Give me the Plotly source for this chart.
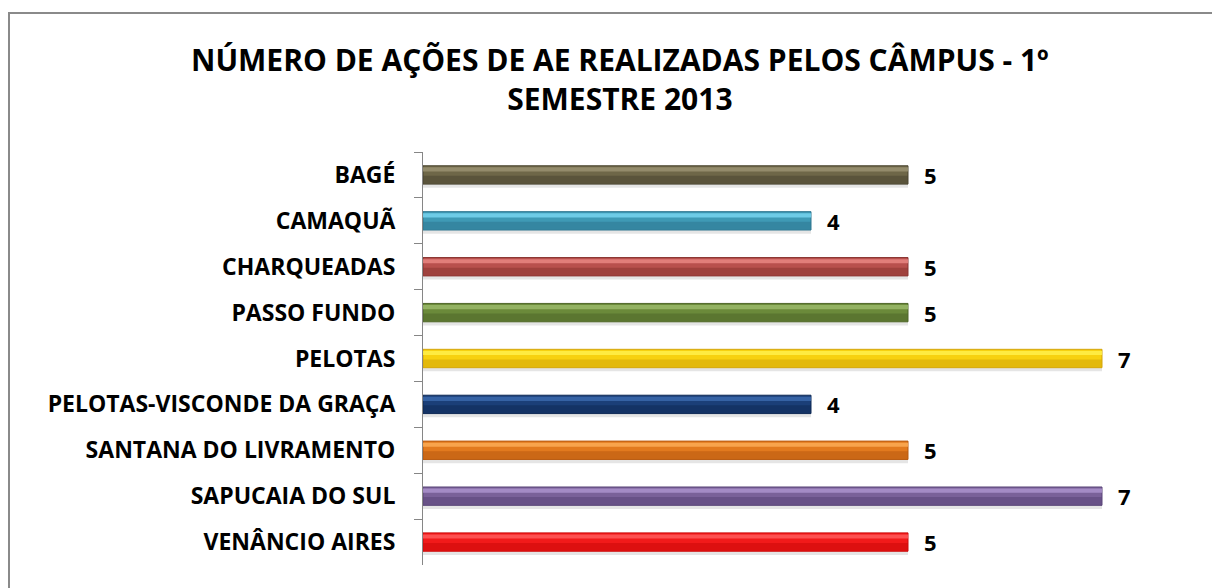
import plotly.graph_objects as go

categories = ["BAGÉ", "CAMAQUÃ", "CHARQUEADAS", "PASSO FUNDO", "PELOTAS",
              "PELOTAS-VISCONDE DA GRAÇA", "SANTANA DO LIVRAMENTO",
              "SAPUCAIA DO SUL", "VENÂNCIO AIRES"]
values = [5, 4, 5, 5, 7, 4, 5, 7, 5]
title_text = "NÚMERO DE AÇÕES DE AE REALIZADAS PELOS CÂMPUS - 1º<br>SEMESTRE 2013"

mid_colors = ["#6e6748", "#3f9ab5", "#b8504d", "#6b8a3a", "#f7d10f",
              "#1b3f78", "#e27a1e", "#7a6199", "#f21a1a"]
light_colors = ["#9a9272", "#77d3ee", "#e88682", "#9ab86a", "#fff04a",
                "#3a68ac", "#fbab55", "#ab93cc", "#ff5a5a"]
dark_colors = ["#4b4631", "#2e7690", "#8a3532", "#4e6628", "#d4a50a",
               "#0f2a56", "#b85a10", "#5a4578", "#cc0a0a"]

FONT = "Open Sans"
fig = go.Figure()

fig.add_trace(go.Bar(y=categories, x=values, orientation="h", width=0.44, offset=-0.16,
                     marker=dict(color="rgba(0,0,0,0.10)", line=dict(width=0)),
                     hoverinfo="skip", showlegend=False))
fig.add_trace(go.Bar(y=categories, x=values, orientation="h", width=0.40, offset=-0.20,
                     marker=dict(color=mid_colors, line=dict(color=dark_colors, width=1)),
                     showlegend=False))
fig.add_trace(go.Bar(y=categories, x=values, orientation="h", width=0.17, offset=0.02,
                     marker=dict(color=dark_colors, opacity=0.55, line=dict(width=0)),
                     hoverinfo="skip", showlegend=False))
fig.add_trace(go.Bar(y=categories, x=values, orientation="h", width=0.09, offset=-0.165,
                     marker=dict(color=light_colors, opacity=0.85, line=dict(width=0)),
                     hoverinfo="skip", showlegend=False))

for c, v in zip(categories, values):
    fig.add_annotation(x=v, y=c, text=str(v), showarrow=False, xanchor="left",
                       xshift=14, font=dict(family=FONT, size=22, color="#000000", weight="bold"))

# title
fig.add_annotation(text=title_text, xref="paper", yref="paper", x=0.2539, y=1.1768,
                   xanchor="center", yanchor="middle", showarrow=False,
                   font=dict(family=FONT, size=30, color="#000000", weight="bold"))

fig.add_shape(type="rect", xref="paper", yref="paper", x0=-0.5335, x1=1.2,
              y0=-0.3, y1=1.3366, line=dict(color="#8a8a8a", width=2), layer="below")

fig.update_layout(
    width=1212, height=580,
    margin=dict(l=415, r=21, t=144, b=23),
    paper_bgcolor="white", plot_bgcolor="white",
    barmode="overlay",
    xaxis=dict(range=[0, 8], visible=False, showgrid=False, zeroline=False),
    yaxis=dict(autorange="reversed", showline=True, linecolor="#868686", linewidth=1,
               ticks="outside", ticklen=8, tickcolor="#868686", tickson="boundaries",
               ticklabelstandoff=22, showgrid=False,
               tickfont=dict(family=FONT, size=23, color="#000000", weight="bold")),
    font=dict(family=FONT),
)

fig.write_html("out.html")
